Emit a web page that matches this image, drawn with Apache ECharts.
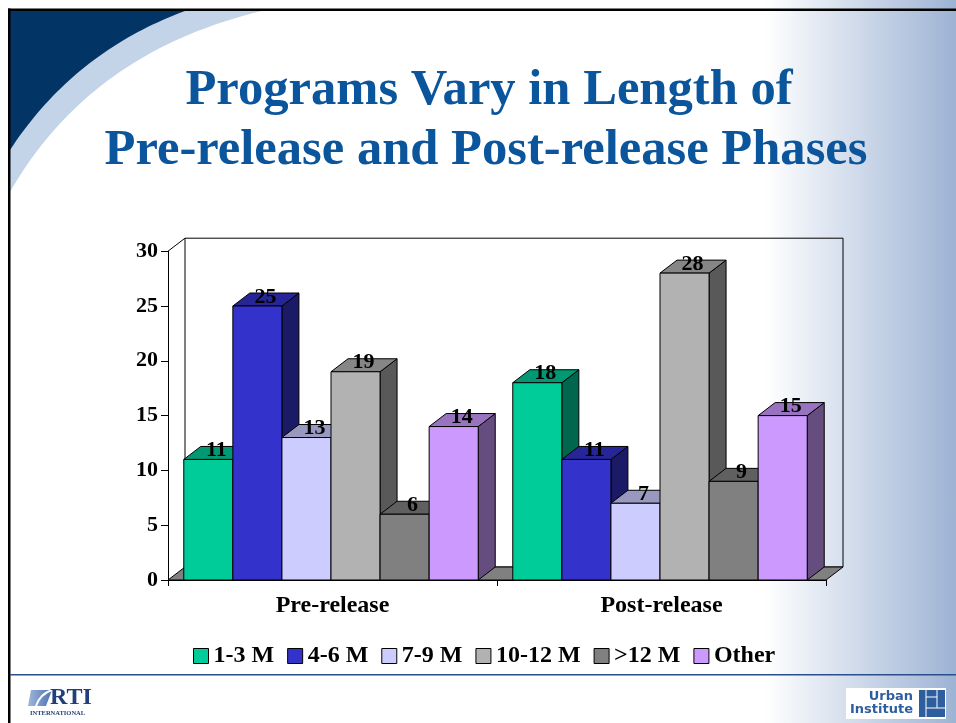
<!DOCTYPE html>
<html><head><meta charset="utf-8">
<script src="https://cdn.jsdelivr.net/npm/echarts@6/dist/echarts.min.js"></script>
<style>
html,body{margin:0;padding:0;background:#fff;}
#c{width:956px;height:723px;background:linear-gradient(to right,#ffffff 0px,#ffffff 765px,#9db3d4 956px);}
</style></head><body><div id="c"></div>
<script>
// ---- data ----
const categories = ['Pre-release', 'Post-release'];
const seriesNames = ['1-3 M', '4-6 M', '7-9 M', '10-12 M', '>12 M', 'Other'];
const vals13 = [11, 18];
const vals46 = [25, 11];
const vals79 = [13, 7];
const vals1012 = [19, 28];
const valsOver12 = [6, 9];
const valsOther = [14, 15];
const yMin = 0, yMax = 30, yStep = 5;
const titleLine1 = 'Programs Vary in Length of';
const titleLine2 = 'Pre-release and Post-release Phases';

// ---- styles ----
const frontColors = ['#00CC99', '#3333CC', '#CCCCFF', '#B2B2B2', '#808080', '#CC99FF'];
const serif = '"Liberation Serif","Times New Roman",serif';
const DX = 17, DY = 13;

function shade(hex, f) {
  const n = parseInt(hex.slice(1), 16);
  const r = Math.round(((n >> 16) & 255) * f), g = Math.round(((n >> 8) & 255) * f), b = Math.round((n & 255) * f);
  return 'rgb(' + r + ',' + g + ',' + b + ')';
}
// decorative corner shape: polygon from a quadratic curve
function cornerShape(p0, c, p2) {
  const pts = [[10, 11]];
  for (let i = 0; i <= 40; i++) {
    const t = i / 40, a = (1 - t) * (1 - t), b = 2 * t * (1 - t), d = t * t;
    pts.push([a * p0[0] + b * c[0] + d * p2[0], a * p0[1] + b * c[1] + d * p2[1]]);
  }
  return pts;
}

const allVals = [vals13, vals46, vals79, vals1012, valsOver12, valsOther];

function barRender(sIdx) {
  return function (params, api) {
    const ci = api.value(0), v = api.value(1);
    const top = api.coord([ci, v]);
    const base = api.coord([ci, 0]);
    const band = api.size([1, 0])[0];
    const bw = band * 0.895 / 6;
    const x0 = top[0] - 3 * bw + sIdx * bw - 1.5;
    const x1 = x0 + bw;
    const yT = top[1], yB = base[1];
    const c = frontColors[sIdx];
    return {
      type: 'group',
      children: [
        { type: 'polygon', shape: { points: [[x1, yT], [x1 + DX, yT - DY], [x1 + DX, yB - DY], [x1, yB]] },
          style: { fill: shade(c, 0.5), stroke: '#000', lineWidth: 1 } },
        { type: 'polygon', shape: { points: [[x0, yT], [x0 + DX, yT - DY], [x1 + DX, yT - DY], [x1, yT]] },
          style: { fill: shade(c, 0.75), stroke: '#000', lineWidth: 1 } },
        { type: 'rect', shape: { x: x0, y: yT, width: bw, height: yB - yT },
          style: { fill: c, stroke: '#000', lineWidth: 1 } },
        { type: 'text', style: { text: String(v), x: (x0 + x1) / 2 + 8, y: yT - 9, align: 'center', verticalAlign: 'middle',
          fontFamily: serif, fontWeight: 'bold', fontSize: 22, fill: '#000' } }
      ]
    };
  };
}

function wallRender(params, api) {
  const cs = params.coordSys;
  const L = cs.x, R = cs.x + cs.width, T = cs.y, B = cs.y + cs.height;
  return {
    type: 'group',
    children: [
      { type: 'rect', shape: { x: L + DX, y: T - DY, width: R - L, height: B - T }, style: { fill: 'none', stroke: '#000', lineWidth: 1 } },
      { type: 'line', shape: { x1: L, y1: T, x2: L + DX, y2: T - DY }, style: { stroke: '#000', lineWidth: 1 } },
      { type: 'polygon', shape: { points: [[L, B], [R, B], [R + DX, B - DY], [L + DX, B - DY]] }, style: { fill: '#808080', stroke: '#000', lineWidth: 1 } }
    ]
  };
}

const series = [{
  type: 'custom', name: '_walls', silent: true, z: 1, renderItem: wallRender, data: [[0, 0]]
}];
seriesNames.forEach(function (nm, i) {
  series.push({
    type: 'custom', name: nm, z: 10 + i,
    renderItem: barRender(i),
    itemStyle: { color: frontColors[i] },
    data: allVals[i].map(function (v, k) { return [k, v]; })
  });
});

const chart = echarts.init(document.getElementById('c'), null, { renderer: 'canvas' });
chart.setOption({
  backgroundColor: 'transparent',
  animation: false,
  grid: { left: 168, top: 251.2, width: 658, height: 328.8 },
  xAxis: {
    type: 'category', data: categories,
    axisLine: { show: true, lineStyle: { color: '#000', width: 1 } },
    axisTick: { show: true, length: 6, interval: 0, lineStyle: { color: '#000' } },
    axisLabel: { margin: 14, fontFamily: serif, fontWeight: 'bold', fontSize: 24, color: '#000' },
    splitLine: { show: false }
  },
  yAxis: {
    type: 'value', min: yMin, max: yMax, interval: yStep,
    axisLine: { show: true, lineStyle: { color: '#000', width: 1 } },
    axisTick: { show: true, length: 7, lineStyle: { color: '#000' } },
    axisLabel: { margin: 10, fontFamily: serif, fontWeight: 'bold', fontSize: 22, color: '#000' },
    splitLine: { show: false }
  },
  legend: {
    data: seriesNames, left: 193, top: 644, padding: 0, itemGap: 13, itemWidth: 15, itemHeight: 15, icon: 'rect',
    itemStyle: { borderColor: '#000', borderWidth: 1 },
    textStyle: { fontFamily: serif, fontWeight: 'bold', fontSize: 24, color: '#000' },
    selectedMode: false
  },
  graphic: [
    { type: 'polygon', z: -5, shape: { points: cornerShape([262, 11], [90, 52], [10, 192]) }, style: { fill: '#C3D3E8' } },
    { type: 'polygon', z: -4, shape: { points: cornerShape([185, 11], [74, 52], [10, 150]) }, style: { fill: '#033466' } },
    { type: 'rect', shape: { x: 8, y: 8.5, width: 948, height: 2.5 }, style: { fill: '#000' } },
    { type: 'rect', shape: { x: 8, y: 8.5, width: 2.5, height: 715 }, style: { fill: '#000' } },
    { type: 'rect', shape: { x: 10, y: 674, width: 946, height: 1.6 }, style: { fill: '#2B4F8C' } },
    { type: 'text', style: { text: titleLine1, x: 489, y: 91, align: 'center', verticalAlign: 'middle', fontFamily: serif, fontWeight: 'bold', fontSize: 50.6, fill: '#0A559C' } },
    { type: 'text', style: { text: titleLine2, x: 486, y: 151, align: 'center', verticalAlign: 'middle', fontFamily: serif, fontWeight: 'bold', fontSize: 50.6, fill: '#0A559C' } },
    // RTI logo
    { type: 'polygon', shape: { points: [[31, 690], [52, 690], [46, 706], [28, 706]] },
      style: { fill: { type: 'linear', x: 0, y: 0, x2: 1, y2: 0, colorStops: [{ offset: 0, color: '#9FB6DC' }, { offset: 1, color: '#4F73B0' }] } } },
    { type: 'bezierCurve', shape: { x1: 36, y1: 706, cpx1: 40, cpy1: 694, x2: 52, y2: 690 }, style: { stroke: '#ffffff', lineWidth: 2, fill: 'none' } },
    { type: 'text', style: { text: 'RTI', x: 50, y: 698, align: 'left', verticalAlign: 'middle', fontFamily: serif, fontWeight: 'bold', fontSize: 24, fill: '#223F7C' } },
    { type: 'text', style: { text: 'INTERNATIONAL', x: 30, y: 713, align: 'left', verticalAlign: 'middle', fontFamily: serif, fontWeight: 'bold', fontSize: 6.5, fill: '#223F7C' } },
    // Urban Institute logo
    { type: 'rect', shape: { x: 846, y: 688, width: 100, height: 31 }, style: { fill: '#ffffff' } },
    { type: 'text', style: { text: 'Urban', x: 913, y: 697, align: 'right', verticalAlign: 'middle', fontFamily: '"DejaVu Sans",sans-serif', fontWeight: 'bold', fontSize: 13, fill: '#2F5E9F' } },
    { type: 'text', style: { text: 'Institute', x: 913, y: 710, align: 'right', verticalAlign: 'middle', fontFamily: '"DejaVu Sans",sans-serif', fontWeight: 'bold', fontSize: 13, fill: '#2F5E9F' } },
    { type: 'rect', shape: { x: 919, y: 690, width: 26, height: 27 }, style: { fill: '#2F5E9F' } },
    { type: 'line', shape: { x1: 926, y1: 690, x2: 926, y2: 717 }, style: { stroke: '#fff', lineWidth: 1 } },
    { type: 'line', shape: { x1: 926, y1: 708, x2: 945, y2: 708 }, style: { stroke: '#fff', lineWidth: 1 } },
    { type: 'line', shape: { x1: 926, y1: 697, x2: 937, y2: 697 }, style: { stroke: '#fff', lineWidth: 1 } },
    { type: 'line', shape: { x1: 937, y1: 690, x2: 937, y2: 708 }, style: { stroke: '#fff', lineWidth: 1 } }
  ],
  series: series
});
</script></body></html>
